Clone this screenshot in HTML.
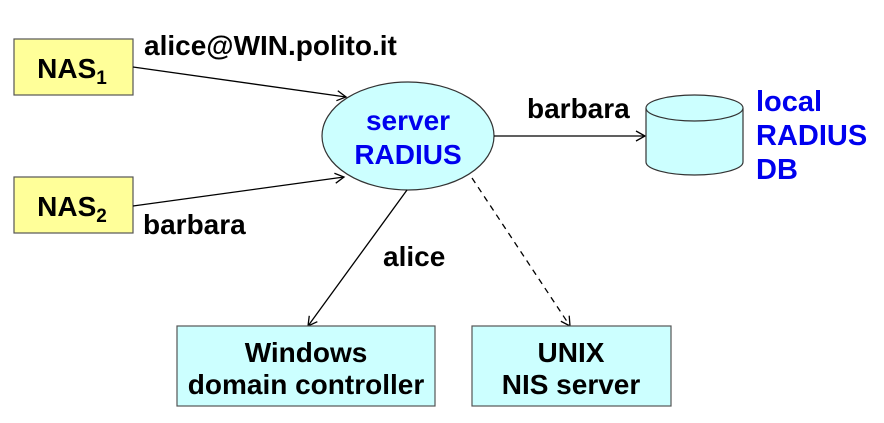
<!DOCTYPE html>
<html><head><meta charset="utf-8"><style>
html,body{margin:0;padding:0;background:#fff;}
svg text{font-family:"Liberation Sans",Arial,sans-serif;font-weight:bold;}
</style></head><body>
<svg width="884" height="418" viewBox="0 0 884 418" xmlns="http://www.w3.org/2000/svg">
<defs>
<marker id="a" markerWidth="12" markerHeight="12" refX="10" refY="6" orient="auto" markerUnits="userSpaceOnUse">
<path d="M1,1 L10,6 L1,11" fill="none" stroke="#000" stroke-width="1.3"/>
</marker>
</defs>
<rect x="14" y="39" width="119" height="56" fill="#ffff99" stroke="#555" stroke-width="1.2"/>
<rect x="14" y="177" width="119" height="56" fill="#ffff99" stroke="#555" stroke-width="1.2"/>
<text x="72" y="78" font-size="28" text-anchor="middle">NAS<tspan font-size="19" dy="6">1</tspan></text>
<text x="72" y="216" font-size="28" text-anchor="middle">NAS<tspan font-size="19" dy="6">2</tspan></text>
<ellipse cx="408" cy="136" rx="86" ry="54" fill="#ccffff" stroke="#333" stroke-width="1.2"/>
<text x="408" y="130" font-size="28" fill="#0000ee" text-anchor="middle">server</text>
<text x="408" y="164" font-size="28" fill="#0000ee" text-anchor="middle">RADIUS</text>
<line x1="133" y1="67" x2="346" y2="97" stroke="#000" stroke-width="1.3" marker-end="url(#a)"/>
<line x1="133" y1="206" x2="344" y2="177" stroke="#000" stroke-width="1.3" marker-end="url(#a)"/>
<text x="144" y="55" font-size="28">alice@WIN.polito.it</text>
<text x="143" y="234" font-size="28">barbara</text>
<line x1="494" y1="136" x2="645" y2="136" stroke="#000" stroke-width="1.3" marker-end="url(#a)"/>
<text x="527" y="118" font-size="28">barbara</text>
<path d="M646,108 L646,162 A48.5,13 0 0 0 743,162 L743,108" fill="#ccffff" stroke="#333" stroke-width="1.2"/>
<ellipse cx="694.5" cy="108" rx="48.5" ry="13" fill="#ccffff" stroke="#333" stroke-width="1.2"/>
<text x="756" y="111" font-size="29" fill="#0000ee">local</text>
<text x="756" y="145" font-size="29" fill="#0000ee">RADIUS</text>
<text x="756" y="179" font-size="29" fill="#0000ee">DB</text>
<line x1="407" y1="190" x2="308" y2="326" stroke="#000" stroke-width="1.3" marker-end="url(#a)"/>
<text x="383" y="266" font-size="28">alice</text>
<line x1="472" y1="178" x2="570" y2="326" stroke="#000" stroke-width="1.3" stroke-dasharray="6,5" marker-end="url(#a)"/>
<rect x="177" y="326" width="258" height="80" fill="#ccffff" stroke="#555" stroke-width="1.2"/>
<rect x="472" y="326" width="199" height="80" fill="#ccffff" stroke="#555" stroke-width="1.2"/>
<text x="306" y="362" font-size="28" text-anchor="middle">Windows</text>
<text x="306" y="394" font-size="28" text-anchor="middle">domain controller</text>
<text x="571" y="362" font-size="28" text-anchor="middle">UNIX</text>
<text x="571" y="394" font-size="28" text-anchor="middle">NIS server</text>
</svg>
</body></html>
